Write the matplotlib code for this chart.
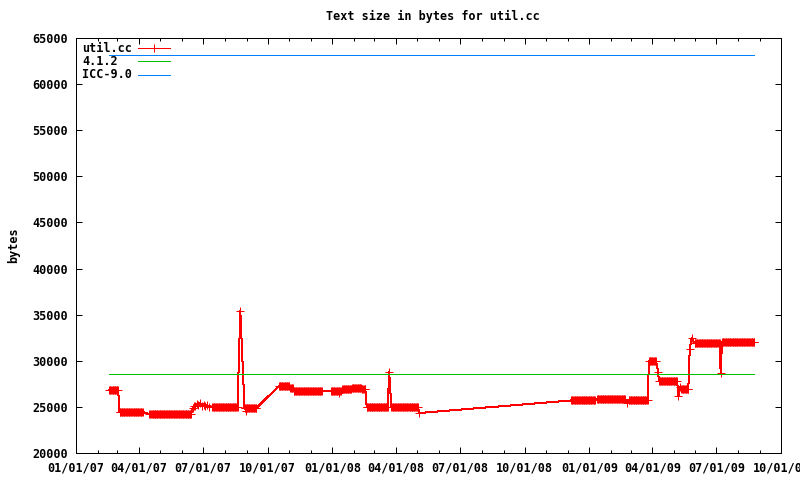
import numpy as np
import pandas as pd
import matplotlib
matplotlib.use("Agg")
import matplotlib.pyplot as plt
import matplotlib.dates as mdates
from matplotlib.lines import Line2D

# nightly builds of util.cc: runs of days with the same text size
run_start = ["2007-02-17", "2007-03-04", "2007-04-17", "2007-07-14", "2007-08-29",
             "2007-10-17", "2007-11-02", "2007-11-07", "2007-12-30", "2008-01-15",
             "2008-01-29", "2008-02-12", "2008-02-19", "2008-03-25", "2008-12-06",
             "2009-01-12", "2009-02-26", "2009-03-27", "2009-04-10", "2009-05-12",
             "2009-05-31", "2009-07-09"]
run_end = ["2007-03-02", "2007-04-06", "2007-06-14", "2007-08-19", "2007-09-15",
           "2007-11-01", "2007-11-06", "2007-12-17", "2008-01-13", "2008-01-28",
           "2008-02-11", "2008-02-17", "2008-03-20", "2008-05-02", "2009-01-09",
           "2009-02-21", "2009-03-25", "2009-04-06", "2009-05-06", "2009-05-22",
           "2009-07-06", "2009-08-24"]
run_bytes = [26850, 24450, 24280, 25000, 24900,
             27250, 27050, 26720, 26720, 26900,
             27100, 26950, 25000, 25000, 25700,
             25850, 25750, 29950, 27800, 26950,
             31900, 32050]

# single builds between the runs
point_dates = ["2007-04-15", "2007-06-16", "2007-06-18", "2007-06-20", "2007-06-22",
               "2007-06-24", "2007-06-27", "2007-06-29", "2007-07-02", "2007-07-04",
               "2007-07-07", "2007-07-09", "2007-08-23", "2007-08-31", "2008-01-11",
               "2008-03-22", "2008-05-04", "2009-02-24", "2009-04-09", "2009-05-08",
               "2009-05-10", "2009-05-24", "2009-05-27", "2009-07-07"]
point_bytes = [24230, 24900, 25150, 25050, 25300,
               25200, 25400, 25150, 25250, 25050,
               25200, 24950, 35400, 24550, 26500,
               28800, 24340, 25430, 28790, 26180,
               27150, 31280, 32470, 28670]

# reference compilers, flat over the whole period
ref_dates = ["2007-02-17", "2009-08-24"]
gcc_412 = [28580, 28580]
icc_90 = [63150, 63150]

plt.rcParams["font.family"] = ["DejaVu Sans Mono"]
plt.rcParams["font.weight"] = "bold"
plt.rcParams["font.size"] = 8.5

parts = [pd.Series(v, index=pd.date_range(s, e, freq="D"))
         for s, e, v in zip(run_start, run_end, run_bytes)]
parts.append(pd.Series(point_bytes, index=pd.to_datetime(point_dates)))
util = pd.concat(parts).sort_index()
refx = pd.to_datetime(ref_dates)

fig = plt.figure(figsize=(8, 4.8), dpi=100)
ax = fig.add_axes([76 / 800, 1 - 453 / 480, 705 / 800, 415 / 480])

lw = 0.72
ax.plot(util.index, util.values, color="#ff0000", lw=lw, marker="+", ms=5.5,
        mew=lw, antialiased=False)
ax.plot(refx, gcc_412, color="#00c000", lw=lw)
ax.plot(refx, icc_90, color="#0080ff", lw=lw)

ax.set_xlim(pd.Timestamp("2007-01-01"), pd.Timestamp("2009-10-01"))
ax.set_ylim(20000, 65000)
ax.set_yticks(np.arange(20000, 65001, 5000))
ax.xaxis.set_major_locator(mdates.MonthLocator(bymonth=[1, 4, 7, 10]))
ax.xaxis.set_minor_locator(mdates.MonthLocator())
ax.xaxis.set_major_formatter(mdates.DateFormatter("%m/%d/%y"))
ax.tick_params(which="both", direction="in", top=True, right=True, width=lw)
ax.tick_params(which="major", length=4.5, pad=6)
ax.tick_params(which="minor", length=2.5)
for sp in ax.spines.values():
    sp.set_linewidth(lw)

ax.set_title("Text size in bytes for util.cc", x=(433 - 76) / 705, pad=13,
             fontweight="bold", fontsize=8.5)
ax.set_ylabel("bytes", fontweight="bold")
ax.yaxis.set_label_coords((20 - 76) / 705, 0.5)

# key, gnuplot style: label first, sample after
key = [("util.cc", "#ff0000", "+"), ("4.1.2", "#00c000", None), ("ICC-9.0", "#0080ff", None)]
for i, (lab, col, mk) in enumerate(key):
    yk = 1 - (48 + 13.3 * i - 38) / 415
    ax.text(6 / 705, yk, lab, transform=ax.transAxes, va="center", ha="left")
    ax.add_line(Line2D([62 / 705, 94 / 705], [yk, yk], transform=ax.transAxes,
                       color=col, lw=lw))
    if mk:
        ax.add_line(Line2D([78 / 705], [yk], transform=ax.transAxes, color=col,
                           marker=mk, ms=5.5, mew=lw, lw=0, antialiased=False))

fig.savefig("out.png", dpi=100)
